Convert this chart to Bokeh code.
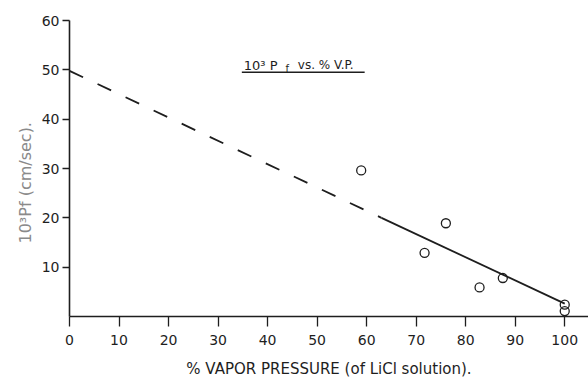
from bokeh.plotting import figure
from bokeh.models import Range1d, FixedTicker, Label, Title
from bokeh.embed import file_html
from bokeh.resources import INLINE

# Data
vapor_pressure = [58.9, 71.7, 76.0, 82.8, 87.5, 100.0, 100.0]
pf_1e3 = [29.6, 12.9, 18.9, 5.9, 7.8, 2.4, 1.1]

# Fitted line (dashed extrapolation + solid part), end points
fit_dash_x = [0.0, 63.0]
fit_dash_y = [49.8, 20.0]
fit_solid_x = [63.0, 100.0]
fit_solid_y = [20.0, 2.6]

x_ticks = [0, 10, 20, 30, 40, 50, 60, 70, 80, 90, 100]
y_ticks = [10, 20, 30, 40, 50, 60]

FONT = "DejaVu Sans"
INK = "#1e1e1e"

p = figure(width=588, height=380, output_backend="svg", toolbar_location=None,
           x_range=Range1d(0, 104.8), y_range=Range1d(0, 60),
           min_border_left=69, min_border_right=0, min_border_top=20, min_border_bottom=64)
p.outline_line_color = None
p.xgrid.visible = False
p.ygrid.visible = False
p.background_fill_color = "white"
p.border_fill_color = "white"

for ax in (p.xaxis[0], p.yaxis[0]):
    ax.axis_line_color = INK
    ax.axis_line_width = 1.6
    ax.major_tick_line_color = INK
    ax.major_tick_line_width = 1.3
    ax.minor_tick_line_color = None
    ax.major_tick_in = 0
    ax.major_label_text_font = FONT
    ax.major_label_text_font_size = "14px"
    ax.major_label_text_color = INK

xa = p.xaxis[0]
xa.ticker = FixedTicker(ticks=x_ticks)
xa.major_tick_out = 10
xa.major_label_standoff = 8
xa.axis_label = "% VAPOR PRESSURE (of LiCl solution)."
xa.axis_label_standoff = 12
xa.axis_label_text_font = FONT
xa.axis_label_text_font_size = "15px"
xa.axis_label_text_font_style = "normal"
xa.axis_label_text_color = INK

ya = p.yaxis[0]
ya.ticker = FixedTicker(ticks=y_ticks)
ya.major_tick_out = 7
ya.major_label_standoff = 3

# fitted line
p.line(fit_dash_x, fit_dash_y, line_color=INK, line_width=1.8, line_dash="15 16")
p.line(fit_solid_x, fit_solid_y, line_color=INK, line_width=1.8)

# data points
p.scatter(vapor_pressure, pf_1e3, marker="circle", size=9, fill_color=None,
          line_color=INK, line_width=1.3)

# y axis label as a side title
p.add_layout(Title(text="10³Pf (cm/sec).", align="left", offset=73,
                   standoff=8, text_font=FONT, text_font_size="16px",
                   text_font_style="normal", text_color="#8a8a8a"), "left")

# in-plot title
p.add_layout(Label(x=35.2, y=50.9, text="10³ P", text_font=FONT, text_font_size="13px",
                   text_color=INK, text_align="left", text_baseline="alphabetic"))
p.add_layout(Label(x=43.6, y=50.3, text="f", text_font=FONT, text_font_size="10px",
                   text_color=INK, text_align="left", text_baseline="alphabetic"))
p.add_layout(Label(x=46.1, y=50.9, text="vs.  % V.P.", text_font=FONT, text_font_size="12px",
                   text_color=INK, text_align="left", text_baseline="alphabetic"))
p.segment(x0=[34.8], y0=[49.5], x1=[59.6], y1=[49.5], line_color=INK, line_width=1.4)

open("out.html", "w").write(file_html(p, INLINE))
